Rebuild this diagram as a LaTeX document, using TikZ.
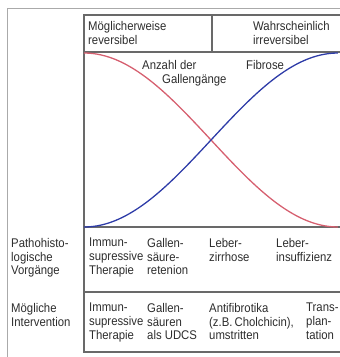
\documentclass[tikz,border=0pt]{standalone}
\usepackage{fontspec}
\setmainfont{Liberation Sans}[FakeStretch=0.9]
\usetikzlibrary{positioning}
\definecolor{curvered}{RGB}{214,96,112}
\definecolor{curveblue}{RGB}{46,60,168}
\definecolor{rulegray}{RGB}{105,105,105}
\definecolor{framegray}{RGB}{170,170,170}
\definecolor{textgray}{RGB}{45,45,45}
\tikzstyle{cell} = [align=left, anchor=north west, inner sep=0pt, text=textgray, font=\fontsize{12.6}{13.8}\selectfont]
\tikzstyle{rule} = [draw=rulegray, line width=1.2pt]
\tikzstyle{curve} = [line width=1.3pt, samples=60, smooth]

\begin{document}
\begin{tikzpicture}[x=1pt, y=-1pt]
		\useasboundingbox (0,0) rectangle (340,357);
		% outer frame
		\draw [framegray, line width=1pt] (7,362) -- (7,8) -- (346,8);
		% table rules
		\draw [rule] (84,15) rectangle (342,352);
		\draw [rule] (84,52) -- (342,52);
		\draw [rule] (212,15) -- (212,52);
		\draw [rule] (84,227) -- (342,227);
		\draw [rule] (84,292) -- (342,292);
		% curves
		\draw [curve, curvered] plot [domain=0:1, variable=\t] ({84+254*\t}, {140-87*cos(180*\t)});
		\draw [curve, curveblue] plot [domain=0:1, variable=\t] ({84+254*\t}, {140+87*cos(180*\t)});
		% header
		\node (Rev) [cell] at (88,21) {Möglicherweise\\reversibel};
		\node (Irrev) [cell] at (253,21) {Wahrscheinlich\\irreversibel};
		\node (Gaenge) [cell] at (142,60) {Anzahl der\\\hspace*{20pt}Gallengänge};
		\node (Fibrose) [cell] at (246,60) {Fibrose};
		% rows
		\node (Patho) [cell] at (11,238) {Pathohisto-\\logische\\Vorgänge};
		\node (Interv) [cell] at (11,303) {Mögliche\\Intervention};
		\node (PathoA) [cell] at (89,238) {Immun-\\supressive\\Therapie};
		\node (PathoB) [cell] at (147,238) {Gallen-\\säure-\\retenion};
		\node (PathoC) [cell] at (209,238) {Leber-\\zirrhose};
		\node (PathoD) [cell] at (276,238) {Leber-\\insuffizienz};
		\node (IntervA) [cell] at (89,303) {Immun-\\supressive\\Therapie};
		\node (IntervB) [cell] at (147,303) {Gallen-\\säuren\\als UDCS};
		\node (IntervC) [cell] at (209,303) {Antifibrotika\\(z.B.\,Cholchicin),\\umstritten};
		\node (IntervD) [cell] at (306,303) {Trans-\\plan-\\tation};
		\end{tikzpicture}
\end{document}
